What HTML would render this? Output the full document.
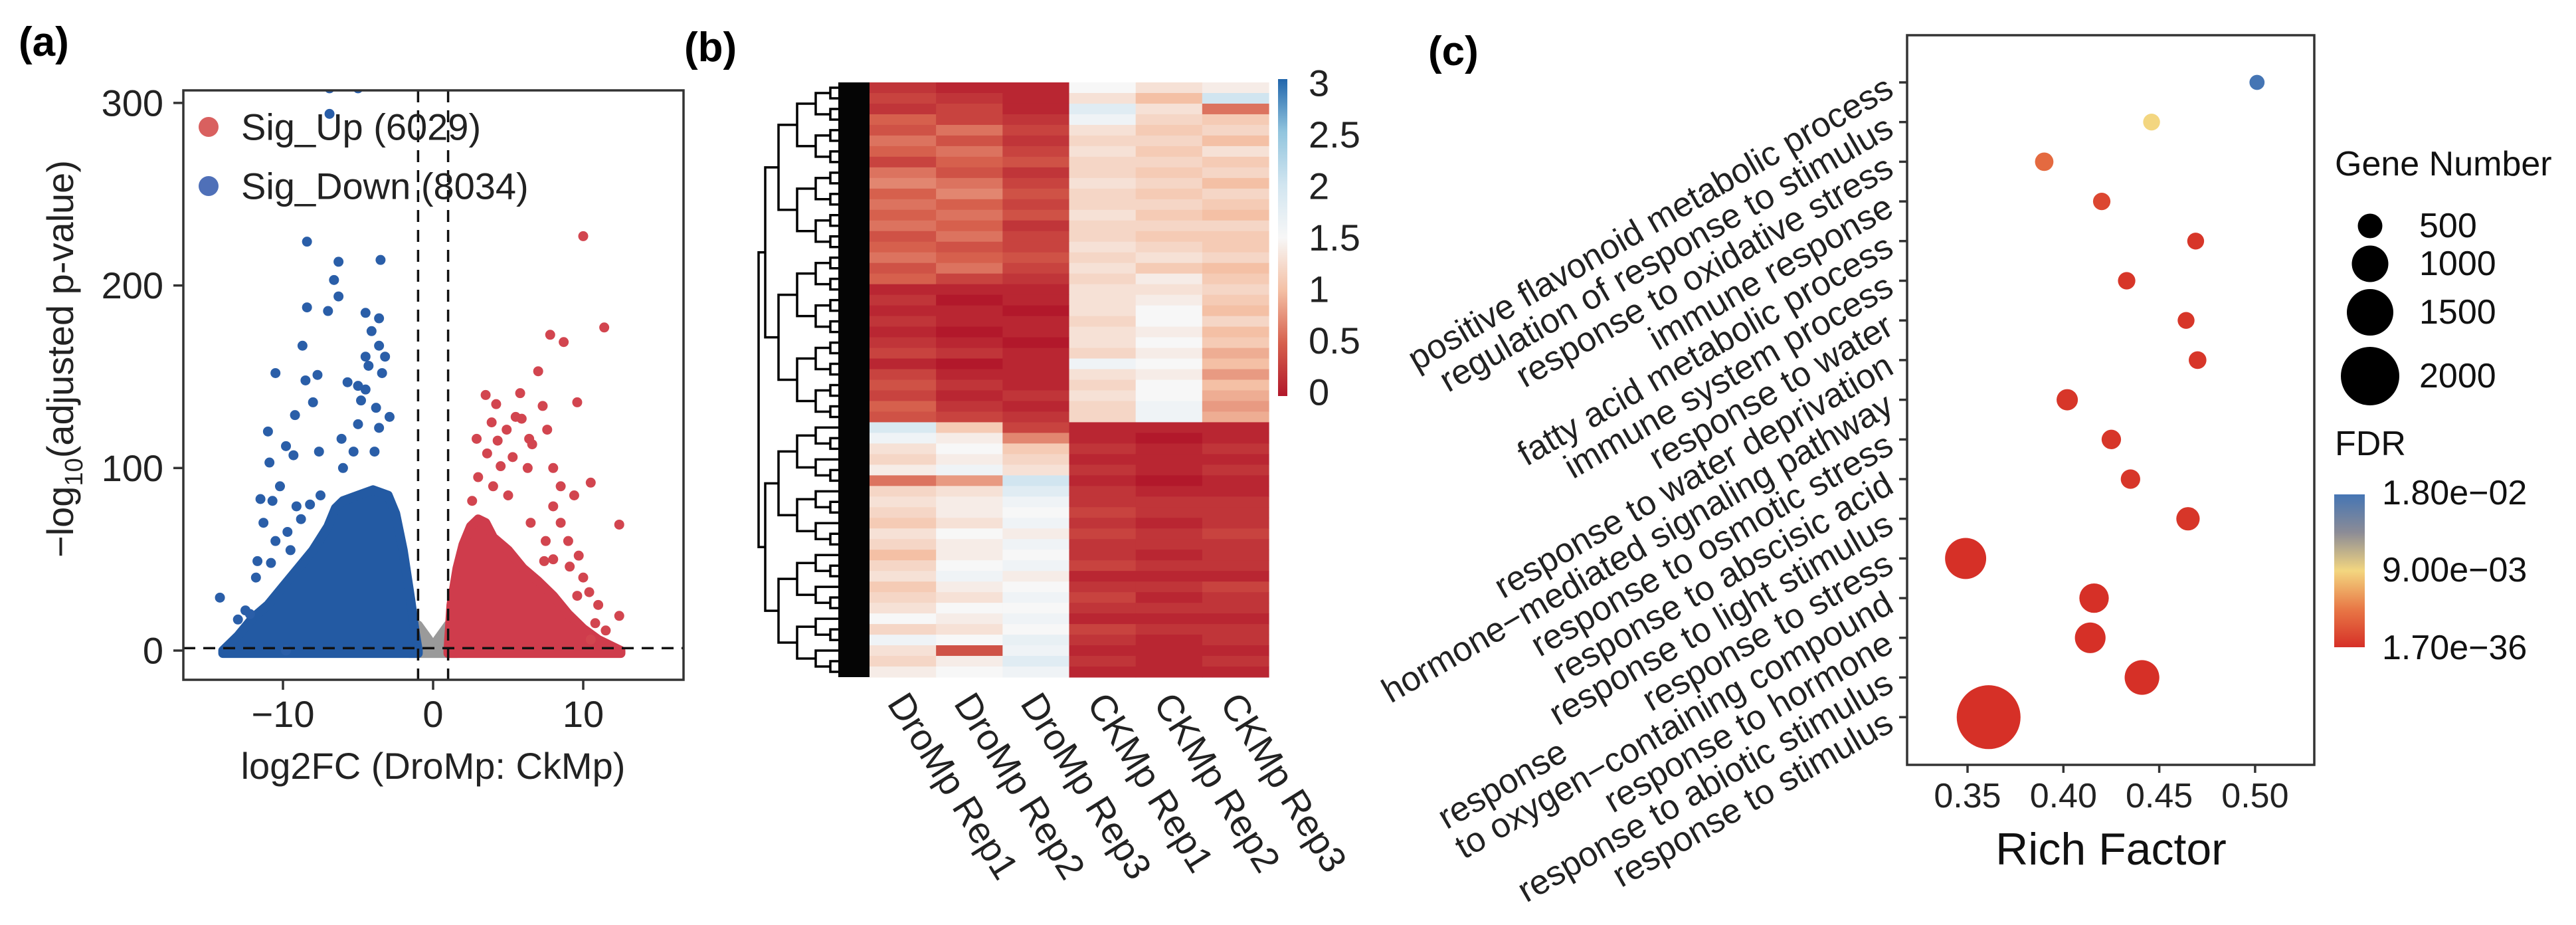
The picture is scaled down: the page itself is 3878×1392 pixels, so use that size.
<!DOCTYPE html>
<html><head><meta charset="utf-8"><style>
html,body{margin:0;padding:0;background:#fff}
svg{display:block;font-family:"Liberation Sans",Arial,sans-serif}
</style></head><body>
<svg id="fig" width="3878" height="1392" viewBox="0 0 3878 1392" xmlns="http://www.w3.org/2000/svg">
<rect width="3878" height="1392" fill="#fff"/>
<text x="28" y="84" font-size="62" font-weight="bold">(a)</text>
<text x="1030" y="92" font-size="62" font-weight="bold">(b)</text>
<text x="2150" y="98" font-size="62" font-weight="bold">(c)</text>
<g id="volcano"></g>
<g id="heat"></g>
<g id="dot"></g>
</svg>
<script>
// ---------- volcano data ----------
const downX = [-6.9,-5.0,-6.9,-8.4,-6.3,-3.5,-6.6,-6.3,-8.4,-7.0,-4.5,-3.6,-4.1,-8.7,-3.6,-4.5,-3.2,-4.3,-3.4,-10.5,-7.7,-8.5,-5.7,-5.0,-4.5,-4.8,-8.0,-3.8,-9.2,-2.9,-5.0,-3.6,-11.0,-6.1,-9.8,-5.3,-3.9,-7.6,-9.3,-10.9,-6.0,-10.2,-11.5,-9.1,-10.7,-14.2,-11.7,-12.2,-9.8,-11.3,-10.5,-9.7,-8.8,-9.5,-10.8,-8.2,-7.5,-11.8,-12.5,-13.0];
const downY = [308,308,294,224,213,214,203,194,188,186,185,182,175,167,167,161,161,156,152,152,151,148,147,145,143,137,136,133,129,128,124,122,120,116,112,109,109,109,107,103,100,90,83,79,82,29,49,20,0,70,60,65,72,55,48,80,85,40,22,17];
const upX = [10,11.4,7.8,8.7,7,3.5,5.8,4.2,7.3,9.6,5.5,5.9,3.9,4.9,7.6,6.4,2.9,4.3,6.6,5.3,3.6,8.0,6.3,4.5,10.5,8.5,9.4,2.6,12.4,8.0,9.7,10.4,12.4,11.5,10.5,9.1,7.4,9.0,8.5,10.0,11.0,9.6,7.5,8.0,10.8,6.5,5.0,4.0,3.0];
const upY = [227,177,173,169,153,140,141,135,134,136,128,127,125,121,121,116,116,115,113,106,108,100,100,101,92,90,85,82,69,79,52,32,19,11,6,46,49,60,70,40,25,30,60,50,15,70,85,90,95];
const downBlobX = [-14,-13,-12,-11,-10,-9,-8,-7,-6.5,-6,-5,-4,-3,-2.5,-2,-1.5,-1.2,-1];
const downBlobY = [0,8,18,25,35,45,55,68,78,82,85,88,85,75,55,28,10,0];
const upBlobX = [1,1.2,1.6,2,2.5,3,3.5,4,5,6,7,8,9,10,11,12,12.5];
const upBlobY = [0,25,45,58,68,72,70,62,55,45,38,30,20,12,6,2,0];
const nsBlobX = [-1.6,-1,-0.3,0,0.3,1,1.6];
const nsBlobY = [0,14,6,2,6,14,0];
const vxTicks = [-10,0,10];
const vyTicks = [0,100,200,300];
const legendLabels = ["Sig_Up (6029)","Sig_Down (8034)"];

// ---------- heatmap data ----------
const sampleNames = ["DroMp Rep1","DroMp Rep2","DroMp Rep3","CKMp Rep1","CKMp Rep2","CKMp Rep3"];
const heatTop = [
[0.2,0.1,0.1,1.5,1.3,1.4],[0.3,0.2,0.1,1.3,1.0,2.0],[0.2,0.3,0.1,1.8,1.3,0.6],[0.5,0.3,0.2,1.6,1.2,1.1],
[0.4,0.6,0.3,1.3,1.1,1.2],[0.6,0.4,0.2,1.2,1.2,1.0],[0.5,0.6,0.3,1.3,1.1,1.3],[0.3,0.5,0.4,1.2,1.2,1.1],
[0.6,0.4,0.2,1.2,1.1,1.2],[0.7,0.6,0.3,1.3,1.2,1.0],[0.5,0.7,0.4,1.2,1.1,1.2],[0.6,0.5,0.3,1.2,1.2,1.1],
[0.5,0.6,0.4,1.3,1.1,1.0],[0.6,0.5,0.2,1.2,1.2,1.2],[0.4,0.6,0.3,1.2,1.1,1.1],[0.5,0.4,0.3,1.3,1.2,1.1],
[0.6,0.5,0.4,1.2,1.3,1.2],[0.4,0.6,0.3,1.3,1.1,1.0],[0.5,0.3,0.2,1.2,1.4,1.1],[0.1,0.1,0.1,1.3,1.3,1.2],
[0.2,0.0,0.1,1.3,1.4,1.1],[0.1,0.1,0.0,1.3,1.5,1.0],[0.2,0.1,0.1,1.2,1.5,1.2],[0.1,0.0,0.1,1.3,1.4,1.0],
[0.2,0.1,0.0,1.3,1.5,1.1],[0.3,0.2,0.1,1.2,1.4,0.9],[0.1,0.0,0.1,1.6,1.5,1.0],[0.3,0.1,0.1,1.3,1.4,0.8],
[0.4,0.2,0.1,1.2,1.5,1.0],[0.3,0.1,0.2,1.3,1.5,0.9],[0.5,0.2,0.1,1.2,1.6,0.8],[0.4,0.3,0.2,1.2,1.6,0.9]];
const heatBottom = [
[1.9,1.1,0.3,0.1,0.1,0.1],[1.6,1.4,0.7,0.1,0.0,0.1],[1.3,1.5,1.1,0.2,0.1,0.2],[1.2,1.4,1.2,0.1,0.1,0.1],
[1.4,1.6,1.3,0.2,0.1,0.2],[0.6,0.8,2.0,0.1,0.0,0.1],[1.2,1.3,1.8,0.2,0.1,0.1],[1.3,1.4,1.6,0.2,0.2,0.2],
[1.2,1.4,1.5,0.3,0.2,0.2],[1.1,1.3,1.6,0.2,0.1,0.2],[1.3,1.5,1.4,0.3,0.2,0.3],[1.2,1.4,1.6,0.2,0.2,0.2],
[1.0,1.4,1.5,0.2,0.1,0.2],[1.2,1.5,1.6,0.3,0.2,0.2],[1.3,1.6,1.4,0.1,0.1,0.1],[1.1,1.4,1.5,0.2,0.2,0.3],
[1.2,1.3,1.6,0.3,0.1,0.2],[1.3,1.5,1.5,0.2,0.2,0.2],[1.5,1.4,1.6,0.1,0.1,0.1],[1.2,1.3,1.5,0.3,0.2,0.2],
[1.6,1.5,1.7,0.2,0.1,0.2],[1.3,0.4,1.6,0.1,0.1,0.1],[1.2,1.4,1.8,0.2,0.1,0.2],[1.4,1.5,1.6,0.1,0.1,0.1]];
const cbTicks = [0,0.5,1,1.5,2,2.5,3];

// ---------- dot plot data ----------
const terms = ["positive flavonoid metabolic process","regulation of response to stimulus","response to oxidative stress","immune response","fatty acid metabolic process","immune system process","response to water","response to water deprivation","hormone\u2212mediated signaling pathway","response to osmotic stress","response to abscisic acid","response to light stimulus","response to stress","response|to oxygen\u2212containing compound","response to hormone","response to abiotic stimulus","response to stimulus"];
const richFactor = [0.501,0.446,0.390,0.420,0.469,0.433,0.464,0.470,0.402,0.425,0.435,0.465,0.349,0.416,0.414,0.441,0.361];
const geneNumber = [300,330,360,340,330,340,330,345,420,380,380,470,1080,640,680,820,2350];
const fdrPos = [1.0,0.5,0.2,0.08,0.02,0.02,0.02,0.02,0.02,0.02,0.02,0.02,0.0,0.0,0.0,0.0,0.0];
const richTicks = [0.35,0.40,0.45,0.50];
const sizeLegend = [500,1000,1500,2000];
const fdrLabels = ["1.80e\u221202","9.00e\u221203","1.70e\u221236"];

const NS = "http://www.w3.org/2000/svg";
function mk(tag, attrs, parent){const e=document.createElementNS(NS,tag);for(const k in attrs)e.setAttribute(k,attrs[k]);parent.appendChild(e);return e;}

// ================= Volcano =================
(function(){
const g=document.getElementById('volcano');
const X=v=>652+v*22.6, Y=v=>979-v*2.747;
const L=276,R=1029,T=136,B=1023;
mk('defs',{},g).innerHTML='<clipPath id="vclip"><rect x="276" y="136" width="753" height="887"/></clipPath>';
const pg=mk('g',{'clip-path':'url(#vclip)'},g);
function blob(xs,ys,fill,name){
  let d='';xs.forEach((x,i)=>{d+=(i?'L':'M')+X(x)+','+Y(ys[i]);});
  d+='L'+X(xs[xs.length-1])+','+Y(-1.5)+'L'+X(xs[0])+','+Y(-1.5)+'Z';
  const p=mk('path',{d:d,fill:fill,stroke:fill,'stroke-width':14,'stroke-linejoin':'round'},pg);
  
  
}
blob(nsBlobX,nsBlobY,'#9a9a9a','nonsig-cloud');
blob(downBlobX,downBlobY,'#235aa3','down-cloud');
blob(upBlobX,upBlobY,'#cf3c4c','up-cloud');
downX.forEach((x,i)=>{const c=mk('circle',{cx:X(x),cy:Y(downY[i]),r:7.5,fill:'#2a5ea8'},pg);
  
  });
upX.forEach((x,i)=>{const c=mk('circle',{cx:X(x),cy:Y(upY[i]),r:7.5,fill:'#d2454f'},pg);
  
  });
[-1,1].forEach(v=>{const l=mk('line',{x1:X(v),x2:X(v),y1:T,y2:B,stroke:'#111','stroke-width':3.5,'stroke-dasharray':'18 12'},g);
  
  });
const hl=mk('line',{x1:L,x2:R,y1:Y(1.3),y2:Y(1.3),stroke:'#111','stroke-width':3.5,'stroke-dasharray':'18 12'},g);


const fr=mk('rect',{x:L,y:T,width:R-L,height:B-T,fill:'none',stroke:'#333','stroke-width':3.5},g);


vyTicks.forEach(v=>{
  mk('line',{x1:L-15,x2:L,y1:Y(v),y2:Y(v),stroke:'#333','stroke-width':3.5},g);
  const t=mk('text',{x:246,y:Y(v),'font-size':56,'text-anchor':'end','dominant-baseline':'central',fill:'#222'},g);
  t.textContent=v;
  
  });
vxTicks.forEach(v=>{
  mk('line',{x1:X(v),x2:X(v),y1:B,y2:B+15,stroke:'#333','stroke-width':3.5},g);
  const t=mk('text',{x:X(v),y:1094,'font-size':56,'text-anchor':'middle',fill:'#222'},g);
  t.textContent=v<0?'\u2212'+Math.abs(v):v;
  
  });
const xt=mk('text',{x:652,y:1172,'font-size':56,'text-anchor':'middle',fill:'#222'},g);
xt.textContent='log2FC (DroMp: CkMp)';


const yt=mk('text',{x:0,y:0,'font-size':56,'text-anchor':'middle',fill:'#222',transform:'translate(110,540) rotate(-90)'},g);
yt.innerHTML='\u2212log<tspan font-size="38" dy="14">10</tspan><tspan dy="-14">(adjusted p-value)</tspan>';


const lc=['#d9605f','#4f70b8'];
legendLabels.forEach((s,i)=>{
  const yy=191+i*89;
  const c=mk('circle',{cx:314,cy:yy,r:15,fill:lc[i]},g);
  
  
  const t=mk('text',{x:363,y:yy,'font-size':56,'dominant-baseline':'central',fill:'#222'},g);
  t.textContent=s;
  
  });
})();

// ================= Heatmap =================
(function(){
const g=document.getElementById('heat');
const rows=heatTop.concat(heatBottom);
const L=1309,R=1910,T=124,B=1019;
const cw=(R-L)/sampleNames.length, rh=(B-T)/rows.length;
const stops=[[0,[178,24,43]],[0.5,[214,96,77]],[1,[244,192,165]],[1.5,[247,247,247]],[2,[209,229,240]],[2.5,[146,197,222]],[3,[33,102,172]]];
function col(v){v=Math.max(0,Math.min(3,v));for(let i=0;i<stops.length-1;i++){if(v<=stops[i+1][0]){const f=(v-stops[i][0])/(stops[i+1][0]-stops[i][0]);const a=stops[i][1],b=stops[i+1][1];return 'rgb('+a.map((x,k)=>Math.round(x+(b[k]-x)*f)).join(',')+')';}}return 'rgb(33,102,172)';}
rows.forEach((r,i)=>r.forEach((v,j)=>{
  const c=mk('rect',{x:L+j*cw,y:T+i*rh,width:cw+0.6,height:rh+0.6,fill:col(v)},g);
  
  }));
const dg=mk('g',{stroke:'#000','stroke-width':3.5,fill:'none'},g);


const depthX=[1142,1152,1172,1200,1228,1250,1268,1285];
function tree(a,b,d){
  if(b-a<=1){return T+(a+0.5)*rh;}
  const m=(d===0)?heatTop.length:Math.floor((a+b)/2);
  const x=depthX[Math.min(d,depthX.length-1)], cx=(b-a===2||d>=6)?L:depthX[Math.min(d+1,depthX.length-1)];
  const y1=tree(a,m,d+1), y2=tree(m,b,d+1);
  const x1=(m-a<=1)?L:cx, x2=(b-m<=1)?L:cx;
  mk('path',{d:'M'+x1+','+y1+'H'+x+'V'+y2+'H'+x2},dg);
  return (y1+y2)/2;}
tree(0,rows.length,0);
mk('rect',{x:1262,y:T,width:L-1262,height:B-T,fill:'#050505',stroke:'none'},dg);
// colorbar
const cb=mk('g',{},g);


const CY=v=>590-v*155;
const defs=mk('defs',{},cb);
const lg=mk('linearGradient',{id:'hmgrad',x1:0,y1:1,x2:0,y2:0},defs);
stops.forEach(s=>mk('stop',{offset:(s[0]/3*100)+'%','stop-color':'rgb('+s[1].join(',')+')'},lg));
mk('rect',{x:1924,y:CY(3)-6,width:14,height:CY(0)-CY(3)+12,fill:'url(#hmgrad)'},cb);
cbTicks.forEach(v=>{const t=mk('text',{x:1970,y:CY(v),'font-size':56,'dominant-baseline':'central',fill:'#222'},cb);
  t.textContent=v;
  
  });
sampleNames.forEach((s,j)=>{
  const t=mk('text',{x:0,y:0,'font-size':56,'dominant-baseline':'central',fill:'#222',transform:'translate('+(L+(j+0.5)*cw-8)+',1048) rotate(58)'},g);
  t.textContent=s;
  
  });
})();

// ================= Dot plot =================
(function(){
const g=document.getElementById('dot');
const L=2871,R=3484,T=53,B=1151;
const X=v=>2962+(v-0.35)*2886, Y=i=>124+i*59.7;
const R2=n=>Math.sqrt(Math.max(60,342+(n-500)*1.0627));
const st=[[0,[214,48,39]],[0.25,[232,120,70]],[0.5,[243,214,128]],[0.75,[140,140,150]],[1,[69,117,180]]];
function fdrCol(p){
  for(let i=0;i<st.length-1;i++){if(p<=st[i+1][0]){const f=(p-st[i][0])/(st[i+1][0]-st[i][0]);const a=st[i][1],b=st[i+1][1];return 'rgb('+a.map((x,k)=>Math.round(x+(b[k]-x)*f)).join(',')+')';}}return 'rgb(69,117,180)';}
const fr=mk('rect',{x:L,y:T,width:R-L,height:B-T,fill:'none',stroke:'#333','stroke-width':3.5},g);


terms.forEach((s,i)=>{
  mk('line',{x1:L-12,x2:L,y1:Y(i),y2:Y(i),stroke:'#333','stroke-width':3.5},g);
  const tg=mk('g',{transform:'translate(2845,'+(Y(i)+4)+') rotate(-30)'},g);
  
  
  const parts=s.split('|');
  const last=mk('text',{x:0,y:0,'font-size':52,'text-anchor':'end','dominant-baseline':'central',fill:'#222'},tg);
  last.textContent=parts[parts.length-1];
  if(parts.length>1){const w=last.getComputedTextLength();
    const f=mk('text',{x:-w,y:-52,'font-size':52,'dominant-baseline':'central',fill:'#222'},tg);
    f.textContent=parts[0];}
  const c=mk('circle',{cx:X(richFactor[i]),cy:Y(i),r:R2(geneNumber[i]),fill:fdrCol(fdrPos[i])},g);
  
  });
richTicks.forEach(v=>{
  mk('line',{x1:X(v),x2:X(v),y1:B,y2:B+12,stroke:'#333','stroke-width':3.5},g);
  const t=mk('text',{x:X(v),y:1198,'font-size':52,'text-anchor':'middle','dominant-baseline':'central',fill:'#222'},g);
  t.textContent=v.toFixed(2);
  
  });
const xt=mk('text',{x:3178,y:1278,'font-size':68,'text-anchor':'middle','dominant-baseline':'central',fill:'#111'},g);
xt.textContent='Rich Factor';


const gt=mk('text',{x:3515,y:247,'font-size':52,'dominant-baseline':'central',fill:'#111'},g);
gt.textContent='Gene Number';


const legR=[18.5,27.5,35,44], legY=[340,397,470,566];
sizeLegend.forEach((n,i)=>{
  const c=mk('circle',{cx:3568,cy:legY[i],r:legR[i],fill:'#000'},g);
  
  
  const t=mk('text',{x:3642,y:legY[i],'font-size':52,'dominant-baseline':'central',fill:'#111'},g);
  t.textContent=n;
  
  });
const ft=mk('text',{x:3515,y:668,'font-size':52,'dominant-baseline':'central',fill:'#111'},g);
ft.textContent='FDR';


const cb=mk('g',{},g);


const defs=mk('defs',{},cb);
const lg=mk('linearGradient',{id:'fdrgrad',x1:0,y1:1,x2:0,y2:0},defs);
st.forEach(s=>mk('stop',{offset:(s[0]*100)+'%','stop-color':'rgb('+s[1].join(',')+')'},lg));
mk('rect',{x:3514,y:744,width:46,height:230,fill:'url(#fdrgrad)'},cb);
const fy=[742,858,975];
fdrLabels.forEach((s,i)=>{const t=mk('text',{x:3586,y:fy[i],'font-size':52,'dominant-baseline':'central',fill:'#111'},g);
  t.textContent=s;
  
  });
})();
</script>
</body></html>
